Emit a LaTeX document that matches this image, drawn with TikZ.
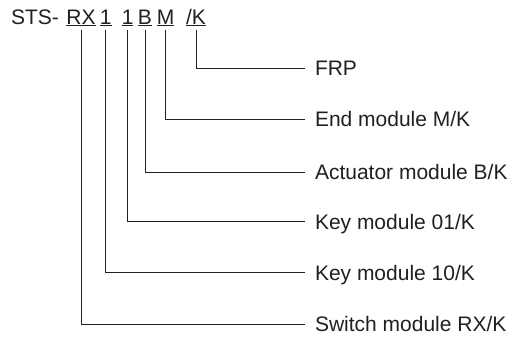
\documentclass[tikz,border=0pt]{standalone}
\usepackage{fontspec}
\setmainfont{Liberation Sans}
\usetikzlibrary{positioning}

% underlined part of the type code
\newcommand\ulPart[1]{\vtop{\hbox{#1}\kern1.2pt\hrule height 0.8pt}}

\begin{document}
\begin{tikzpicture}[x=1pt, y=-1pt, font=\fontsize{21}{25}\selectfont]
    \definecolor{inkColour}{HTML}{231F20}

    \tikzset{
        codePart/.style={anchor=base, inner xsep=0pt, inner ysep=4pt, outer sep=0pt, text=inkColour},
        moduleLabel/.style={anchor=west, inner xsep=10pt, inner ysep=0pt, outer sep=0pt,
            text height=15pt, text depth=0pt, text=inkColour},
        leader/.style={draw=inkColour, line width=0.8pt}
    }

    % Fix the page size
    \useasboundingbox (0,0) rectangle (516,338);

    % Type code
    \node[codePart, anchor=base west] (sts) at (11,24) {STS-};
    \node[codePart] (rx)   at (81,24)    {\ulPart{RX}};
    \node[codePart] (keyA) at (105.7,24) {\ulPart{1}};
    \node[codePart] (keyB) at (127.6,24) {\ulPart{1}};
    \node[codePart] (act)  at (145,24)   {\ulPart{B}};
    \node[codePart] (endm) at (165.5,24) {\ulPart{M}};
    \node[codePart] (frp)  at (196,24)   {\ulPart{/K}};

    % Module labels
    \node[moduleLabel] (frpLabel)    at (305,68.3)  {FRP};
    \node[moduleLabel] (endLabel)    at (305,119.3) {End module M/K};
    \node[moduleLabel] (actLabel)    at (305,172.2) {Actuator module B/K};
    \node[moduleLabel] (keyBLabel)   at (305,221.7) {Key module 01/K};
    \node[moduleLabel] (keyALabel)   at (305,272.7) {Key module 10/K};
    \node[moduleLabel] (switchLabel) at (305,324)   {Switch module RX/K};

    % Draw leaders
    \foreach \from/\to in {frp/frpLabel, endm/endLabel, act/actLabel, keyB/keyBLabel, keyA/keyALabel, rx/switchLabel}
        \draw[leader] (\from.south) |- (\to.west);

\end{tikzpicture}
\end{document}
